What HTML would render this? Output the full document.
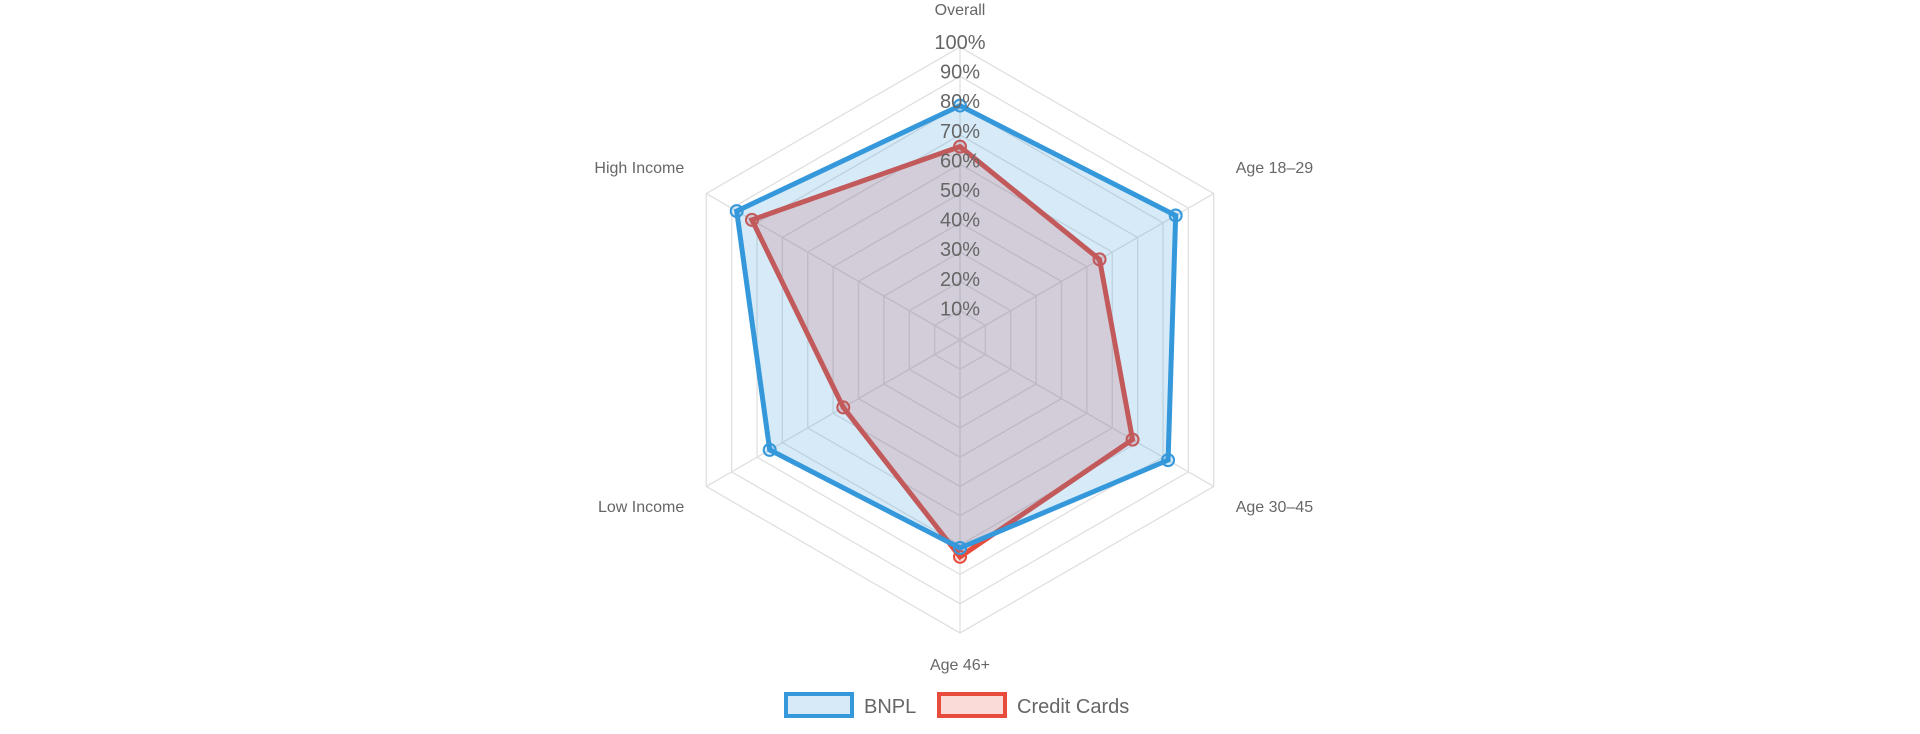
<!DOCTYPE html>
<html><head><meta charset="utf-8"><style>
html,body{margin:0;padding:0;background:#fff;width:1920px;height:734px;overflow:hidden}
svg text{font-family:"Liberation Sans",sans-serif}
</style></head><body>
<svg id="chart" width="1920" height="734" xmlns="http://www.w3.org/2000/svg">
<g id="grid"></g>
<g id="series"></g>
<g id="ticks"></g>
<g id="labels"></g>
<g>
 <g>
  <rect x="786" y="694" width="66" height="22" fill="rgba(52,152,219,0.2)" stroke="#3498db" stroke-width="4"/>
  <text x="864" y="713" font-size="20" fill="#666">BNPL</text>
 </g>
 <g>
  <rect x="939" y="694" width="66" height="22" fill="rgba(231,76,60,0.2)" stroke="#e74c3c" stroke-width="4"/>
  <text x="1017" y="713" font-size="20" fill="#666">Credit Cards</text>
 </g>
</g>
</svg>
<script>
const categories = ["Overall","Age 18–29","Age 30–45","Age 46+","Low Income","High Income"];
const bnplValues = [80, 85, 82, 71, 75, 88];
const creditValues = [66, 55, 68, 74, 46, 82];
const tickLabels = ["10%","20%","30%","40%","50%","60%","70%","80%","90%","100%"];
const tickValues = [10,20,30,40,50,60,70,80,90,100];

const NS="http://www.w3.org/2000/svg";
const cx=960, cy=340, R=293, maxV=100;
function ang(i){return -Math.PI/2 + i*2*Math.PI/categories.length;}
function pt(i,v){const a=ang(i), r=v/maxV*R; return [cx+r*Math.cos(a), cy+r*Math.sin(a)];}
function mk(tag,attrs,parent){const e=document.createElementNS(NS,tag);for(const k in attrs)e.setAttribute(k,attrs[k]);parent.appendChild(e);return e;}

const grid=document.getElementById('grid');
tickValues.forEach(t=>{
  const p=categories.map((c,i)=>pt(i,t).join(',')).join(' ');
  const e=mk('polygon',{points:p,fill:'none',stroke:'#e0e0e0','stroke-width':1.3},grid);
  
  
});
categories.forEach((c,i)=>{
  const [x,y]=pt(i,maxV);
  const e=mk('line',{x1:cx,y1:cy,x2:x,y2:y,stroke:'#e0e0e0','stroke-width':1.3},grid);
  
  
});

const series=document.getElementById('series');
function drawSeries(vals,stroke,fill,name){
  const g=mk('g',{},series);
  
  
  const p=vals.map((v,i)=>pt(i,v).join(',')).join(' ');
  mk('polygon',{points:p,fill:fill,stroke:stroke,'stroke-width':5,'stroke-linejoin':'miter'},g);
  vals.forEach((v,i)=>{
    const [x,y]=pt(i,v);
    const c=mk('circle',{cx:x,cy:y,r:6,fill:fill,stroke:stroke,'stroke-width':2},g);
    
    
  });
}
drawSeries(creditValues,'#e74c3c','rgba(231,76,60,0.2)','credit-cards-series');
drawSeries(bnplValues,'#3498db','rgba(52,152,219,0.2)','bnpl-series');

const ticks=document.getElementById('ticks');
tickValues.forEach((t,k)=>{
  const y=cy - t/maxV*R - 2 - t*0.03;
  const e=mk('text',{x:cx,y:y+7,'text-anchor':'middle','font-size':20,fill:'#666'},ticks);
  e.textContent=tickLabels[k];
  
  
});

const labels=document.getElementById('labels');
const labelR=R+28;
categories.forEach((c,i)=>{
  const a=ang(i);
  let x=cx+labelR*Math.cos(a), y=cy+labelR*Math.sin(a);
  let anchor='middle';
  if(Math.cos(a)>0.1){anchor='start';x=cx+(R*0.866)+22;}
  else if(Math.cos(a)<-0.1){anchor='end';x=cx-(R*0.866)-22;}
  if(i===0) y=15; if(i===3) y=670;
  if(i===1||i===5) y=173; if(i===2||i===4) y=512;
  const e=mk('text',{x:x,y:y,'text-anchor':anchor,'font-size':16,fill:'#666'},labels);
  e.textContent=c;
  
  
});
</script>
</body></html>
